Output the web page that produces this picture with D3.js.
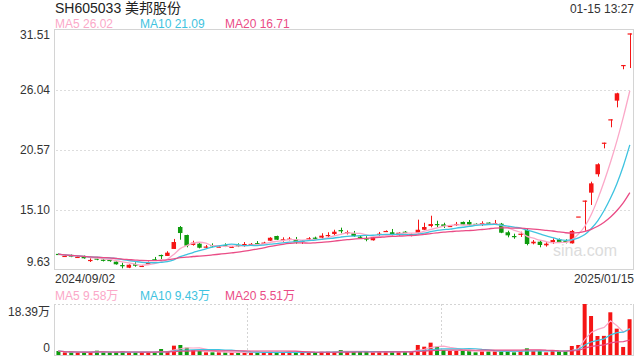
<!DOCTYPE html>
<html>
<head>
<meta charset="utf-8">
<script src="https://cdn.jsdelivr.net/npm/d3@7"></script>
<style>
body { margin: 0; background: #fff; }
svg { display: block; font-family: Arial, "Liberation Sans", "Noto Sans CJK SC", sans-serif; }
</style>
</head>
<body>
<script>
// daily candles, 2024/09/02 .. 2025/01/15
var opens = [11.10,10.90,11.00,10.80,10.91,10.51,10.68,10.57,10.55,10.39,
  10.08,9.84,10.15,9.98,10.15,10.61,11.00,10.91,11.55,13.55,
  12.82,11.91,12.03,11.74,11.90,11.74,11.90,11.72,11.90,11.97,
  11.98,12.08,12.10,12.30,12.73,12.39,12.46,12.43,12.18,12.48,
  12.58,12.58,12.77,12.91,13.27,13.05,12.98,12.67,12.51,12.34,
  12.92,13.16,13.07,12.80,13.12,12.80,13.03,13.30,13.64,13.82,
  13.79,13.62,13.80,14.01,14.01,13.84,13.87,13.95,13.88,13.85,
  13.07,12.73,12.91,13.28,12.06,12.21,11.88,12.18,12.43,12.28,
  12.06,14.51,15.96,16.68,18.36,21.24,23.37,25.07,28.32,31.20];
var highs = [11.15,11.00,11.05,10.88,10.95,10.70,10.82,10.64,10.63,10.42,
  10.30,10.14,10.33,10.08,10.40,10.82,11.03,11.34,12.46,13.64,
  12.85,12.30,12.08,11.91,12.06,11.85,12.06,11.82,12.06,12.18,
  12.09,12.27,12.20,12.62,12.76,12.61,12.64,12.64,12.36,12.63,
  12.67,12.98,13.07,13.30,13.49,13.23,13.19,12.80,12.71,12.64,
  13.10,13.24,13.37,13.06,13.18,12.95,14.22,13.94,14.58,14.12,
  13.94,13.70,14.01,14.05,14.19,13.88,14.07,13.98,14.19,13.92,
  13.21,12.94,13.12,13.37,12.36,12.36,12.16,12.52,12.50,12.43,
  13.28,14.51,15.96,17.68,19.36,21.24,23.37,25.79,28.32,31.20];
var lows = [11.00,10.82,10.80,10.76,10.66,10.36,10.52,10.41,10.38,10.12,
  9.78,9.80,9.93,9.90,10.12,10.50,10.63,10.91,11.55,12.39,
  11.70,11.85,11.60,11.64,11.70,11.70,11.72,11.68,11.72,11.75,
  11.91,11.82,12.05,12.27,12.36,12.21,12.33,12.03,12.00,12.32,
  12.41,12.49,12.58,12.79,12.98,12.87,12.64,12.48,12.25,12.31,
  12.76,13.12,12.76,12.77,12.98,12.70,12.98,13.27,13.52,13.52,
  13.46,13.58,13.64,13.72,13.70,13.76,13.64,13.80,13.76,12.99,
  12.61,12.48,12.64,11.88,11.97,11.70,11.76,12.00,12.09,12.06,
  12.04,14.51,13.21,15.56,18.14,20.72,22.64,24.46,27.93,28.04];
var closes = [11.08,10.92,10.85,10.83,10.70,10.55,10.65,10.53,10.52,10.15,
  10.05,10.11,10.02,10.01,10.36,10.52,10.97,11.21,12.18,13.00,
  11.85,12.12,11.66,11.77,11.86,11.77,11.86,11.75,11.86,12.00,
  12.01,12.05,12.13,12.57,12.39,12.43,12.49,12.16,12.30,12.52,
  12.49,12.76,12.82,13.12,13.24,13.09,12.73,12.64,12.48,12.61,
  12.94,13.19,12.82,13.03,13.03,12.91,13.30,13.55,13.82,13.79,
  13.64,13.65,13.83,13.76,13.76,13.81,13.91,13.83,13.91,13.03,
  12.79,12.70,12.94,12.00,12.21,11.91,12.03,12.36,12.18,12.25,
  13.19,14.51,15.96,17.53,19.27,21.24,23.37,25.74,28.32,31.20];
// volume in 万
var volumes = [1.44,0.96,0.96,0.96,0.96,0.96,1.56,0.96,0.96,0.96,
  1.44,0.96,0.96,0.96,0.96,0.96,2.16,1.20,3.37,3.61,
  2.64,1.80,1.44,0.96,0.96,0.96,0.96,0.96,0.96,0.96,
  0.96,0.96,0.96,0.96,0.96,0.96,0.96,0.96,0.96,0.96,
  0.96,1.20,1.20,1.20,1.80,1.20,1.20,1.20,1.20,0.96,
  1.20,1.20,1.20,1.20,1.20,1.20,3.61,3.00,4.45,3.00,
  1.80,1.44,1.44,1.44,1.44,0.96,1.44,1.44,1.44,1.44,
  1.44,0.96,1.44,2.40,1.44,1.44,0.96,1.44,1.44,1.44,
  3.25,3.61,18.39,14.06,6.85,6.90,15.40,9.50,2.90,12.90];

var priceTicks = [31.51, 26.04, 20.57, 15.10, 9.63];
var volTicks = [18.39, 0];
var dateLabels = ["2024/09/02", "2025/01/15"];
var maNames = ["MA5", "MA10", "MA20"];
var maPeriods = [5, 10, 20];
var priceMaText = ["26.02", "21.09", "16.71"];
var volMaText = ["9.58万", "9.43万", "5.51万"];

var maColors = ["#fba8c8", "#3ec3e0", "#ea4c86"];
var upColor = "#f51515";
var downColor = "#0e9b0e";

var W = 640, H = 360;
var left = 54, right = 634;
var pTop = 30, pBottom = 270;
var vTop = 304, vBottom = 355;

var svg = d3.select("body").append("svg").attr("width", W).attr("height", H);

var n = closes.length;
var x = d3.scaleBand().domain(d3.range(n)).range([left, right]).padding(0.3);
var xv = d3.scaleBand().domain(d3.range(n)).range([left, right]).padding(0.38);
var y = d3.scaleLinear().domain([9.63, 31.51]).range([pBottom, pTop]);
var yv = d3.scaleLinear().domain([0, 18.39]).range([vBottom, vTop]);

function movingAvg(arr, p){
	var out = [];
	for(var i = 0; i < arr.length; i++){
		var s = Math.max(0, i - p + 1);
		out.push(d3.mean(arr.slice(s, i + 1)));
	}
	return out;
}

function isUp(i){
	if(closes[i] > opens[i]) return true;
	if(closes[i] < opens[i]) return false;
	return i == 0 || closes[i] >= closes[i - 1];
}

// header
svg.append("text").attr("x", 55).attr("y", 13).attr("font-size", 14).attr("fill", "#222")
	.text("SH605033 美邦股份");
svg.append("text").attr("x", right).attr("y", 13).attr("font-size", 12).attr("fill", "#333")
	.attr("text-anchor", "end").text("01-15 13:27");

function legend(yPos, vals){
	maNames.forEach(function(m, k){
		svg.append("text").attr("x", 55 + k * 85).attr("y", yPos).attr("font-size", 12)
			.attr("fill", maColors[k]).text(m + " " + vals[k]);
	});
}
legend(28, priceMaText);
legend(300, volMaText);

// price panel frame + grid
svg.append("rect").attr("x", left + 0.5).attr("y", pTop - 0.5).attr("width", right - left - 1)
	.attr("height", pBottom - pTop).attr("fill", "none").attr("stroke", "#d4d4d4");

var g = svg.append("g");
g.selectAll(".grid").data(priceTicks.slice(1, 4)).enter().append("line")
	.attr("x1", left + 2).attr("x2", right - 2)
	.attr("y1", function(d){ return Math.round(y(d)) + 0.5; })
	.attr("y2", function(d){ return Math.round(y(d)) + 0.5; })
	.attr("stroke", "#ddd").attr("stroke-dasharray", "2,2");

g.selectAll(".ptick").data(priceTicks).enter().append("text")
	.attr("x", 50).attr("text-anchor", "end").attr("font-size", 12).attr("fill", "#333")
	.attr("y", function(d, i){
		var yy = y(d);
		if(i == 0) yy += 5;
		if(i == priceTicks.length - 1) yy -= 8;
		return yy + 4;
	})
	.text(function(d){ return d.toFixed(2); });

svg.append("text").attr("x", 55).attr("y", 283).attr("font-size", 12).attr("fill", "#333")
	.text(dateLabels[0]);
svg.append("text").attr("x", right).attr("y", 283).attr("font-size", 12).attr("fill", "#333")
	.attr("text-anchor", "end").text(dateLabels[1]);

svg.append("text").attr("x", 585).attr("y", 256).attr("font-size", 16).attr("fill", "#dcdcdc")
	.attr("text-anchor", "middle").text("sina.com");

// candles
var idx = d3.range(n);
var cg = svg.append("g");
cg.selectAll(".wick").data(idx).enter().append("line")
	.attr("x1", function(i){ return Math.round(x(i) + x.bandwidth() / 2) + 0.5; })
	.attr("x2", function(i){ return Math.round(x(i) + x.bandwidth() / 2) + 0.5; })
	.attr("y1", function(i){ return y(highs[i]); })
	.attr("y2", function(i){ return y(lows[i]); })
	.attr("stroke", function(i){ return isUp(i) ? upColor : downColor; })
	.attr("stroke-width", 1);
cg.selectAll(".body").data(idx).enter().append("rect")
	.attr("x", function(i){ return x(i); })
	.attr("width", x.bandwidth())
	.attr("y", function(i){ return y(Math.max(opens[i], closes[i])); })
	.attr("height", function(i){ return Math.max(1.2, Math.abs(y(opens[i]) - y(closes[i]))); })
	.attr("fill", function(i){ return isUp(i) ? upColor : downColor; });

// moving averages of closes
var line = d3.line().x(function(d, i){ return x(i) + x.bandwidth() / 2; }).y(function(d){ return y(d); })
	.curve(d3.curveMonotoneX);
maPeriods.forEach(function(p, k){
	svg.append("path").datum(movingAvg(closes, p)).attr("d", line)
		.attr("fill", "none").attr("stroke", maColors[k]).attr("stroke-width", 1.3);
});

// volume panel
svg.append("line").attr("x1", left + 0.5).attr("x2", left + 0.5).attr("y1", vTop).attr("y2", vBottom)
	.attr("stroke", "#d4d4d4");
svg.append("line").attr("x1", right - 0.5).attr("x2", right - 0.5).attr("y1", vTop).attr("y2", vBottom)
	.attr("stroke", "#d4d4d4");
svg.append("line").attr("x1", left).attr("x2", right).attr("y1", vBottom + 0.5).attr("y2", vBottom + 0.5)
	.attr("stroke", "#d4d4d4");
svg.append("line").attr("x1", left).attr("x2", right).attr("y1", vTop + 0.5).attr("y2", vTop + 0.5)
	.attr("stroke", "#d4d4d4").attr("stroke-dasharray", "2,2");
[1, 2].forEach(function(k){
	var xx = Math.round(left + (right - left) * k / 3) + 0.5;
	svg.append("line").attr("x1", xx).attr("x2", xx).attr("y1", vTop).attr("y2", vBottom)
		.attr("stroke", "#d4d4d4").attr("stroke-dasharray", "2,2");
});

svg.selectAll(".vtick").data(volTicks).enter().append("text")
	.attr("x", 50).attr("text-anchor", "end").attr("font-size", 12).attr("fill", "#333")
	.attr("y", function(d, i){ return i == 0 ? yv(d) + 12 : yv(d) - 3; })
	.text(function(d){ return d == 0 ? "0" : d.toFixed(2) + "万"; });

svg.append("g").selectAll("rect").data(idx).enter().append("rect")
	.attr("x", function(i){ return xv(i); })
	.attr("width", xv.bandwidth())
	.attr("y", function(i){ return yv(volumes[i]); })
	.attr("height", function(i){ return vBottom - yv(volumes[i]); })
	.attr("fill", function(i){ return isUp(i) ? upColor : downColor; });

var vline = d3.line().x(function(d, i){ return x(i) + x.bandwidth() / 2; }).y(function(d){ return yv(d); });
maPeriods.forEach(function(p, k){
	svg.append("path").datum(movingAvg(volumes, p)).attr("d", vline)
		.attr("fill", "none").attr("stroke", maColors[k]).attr("stroke-width", 1.2);
});
</script>
</body>
</html>
